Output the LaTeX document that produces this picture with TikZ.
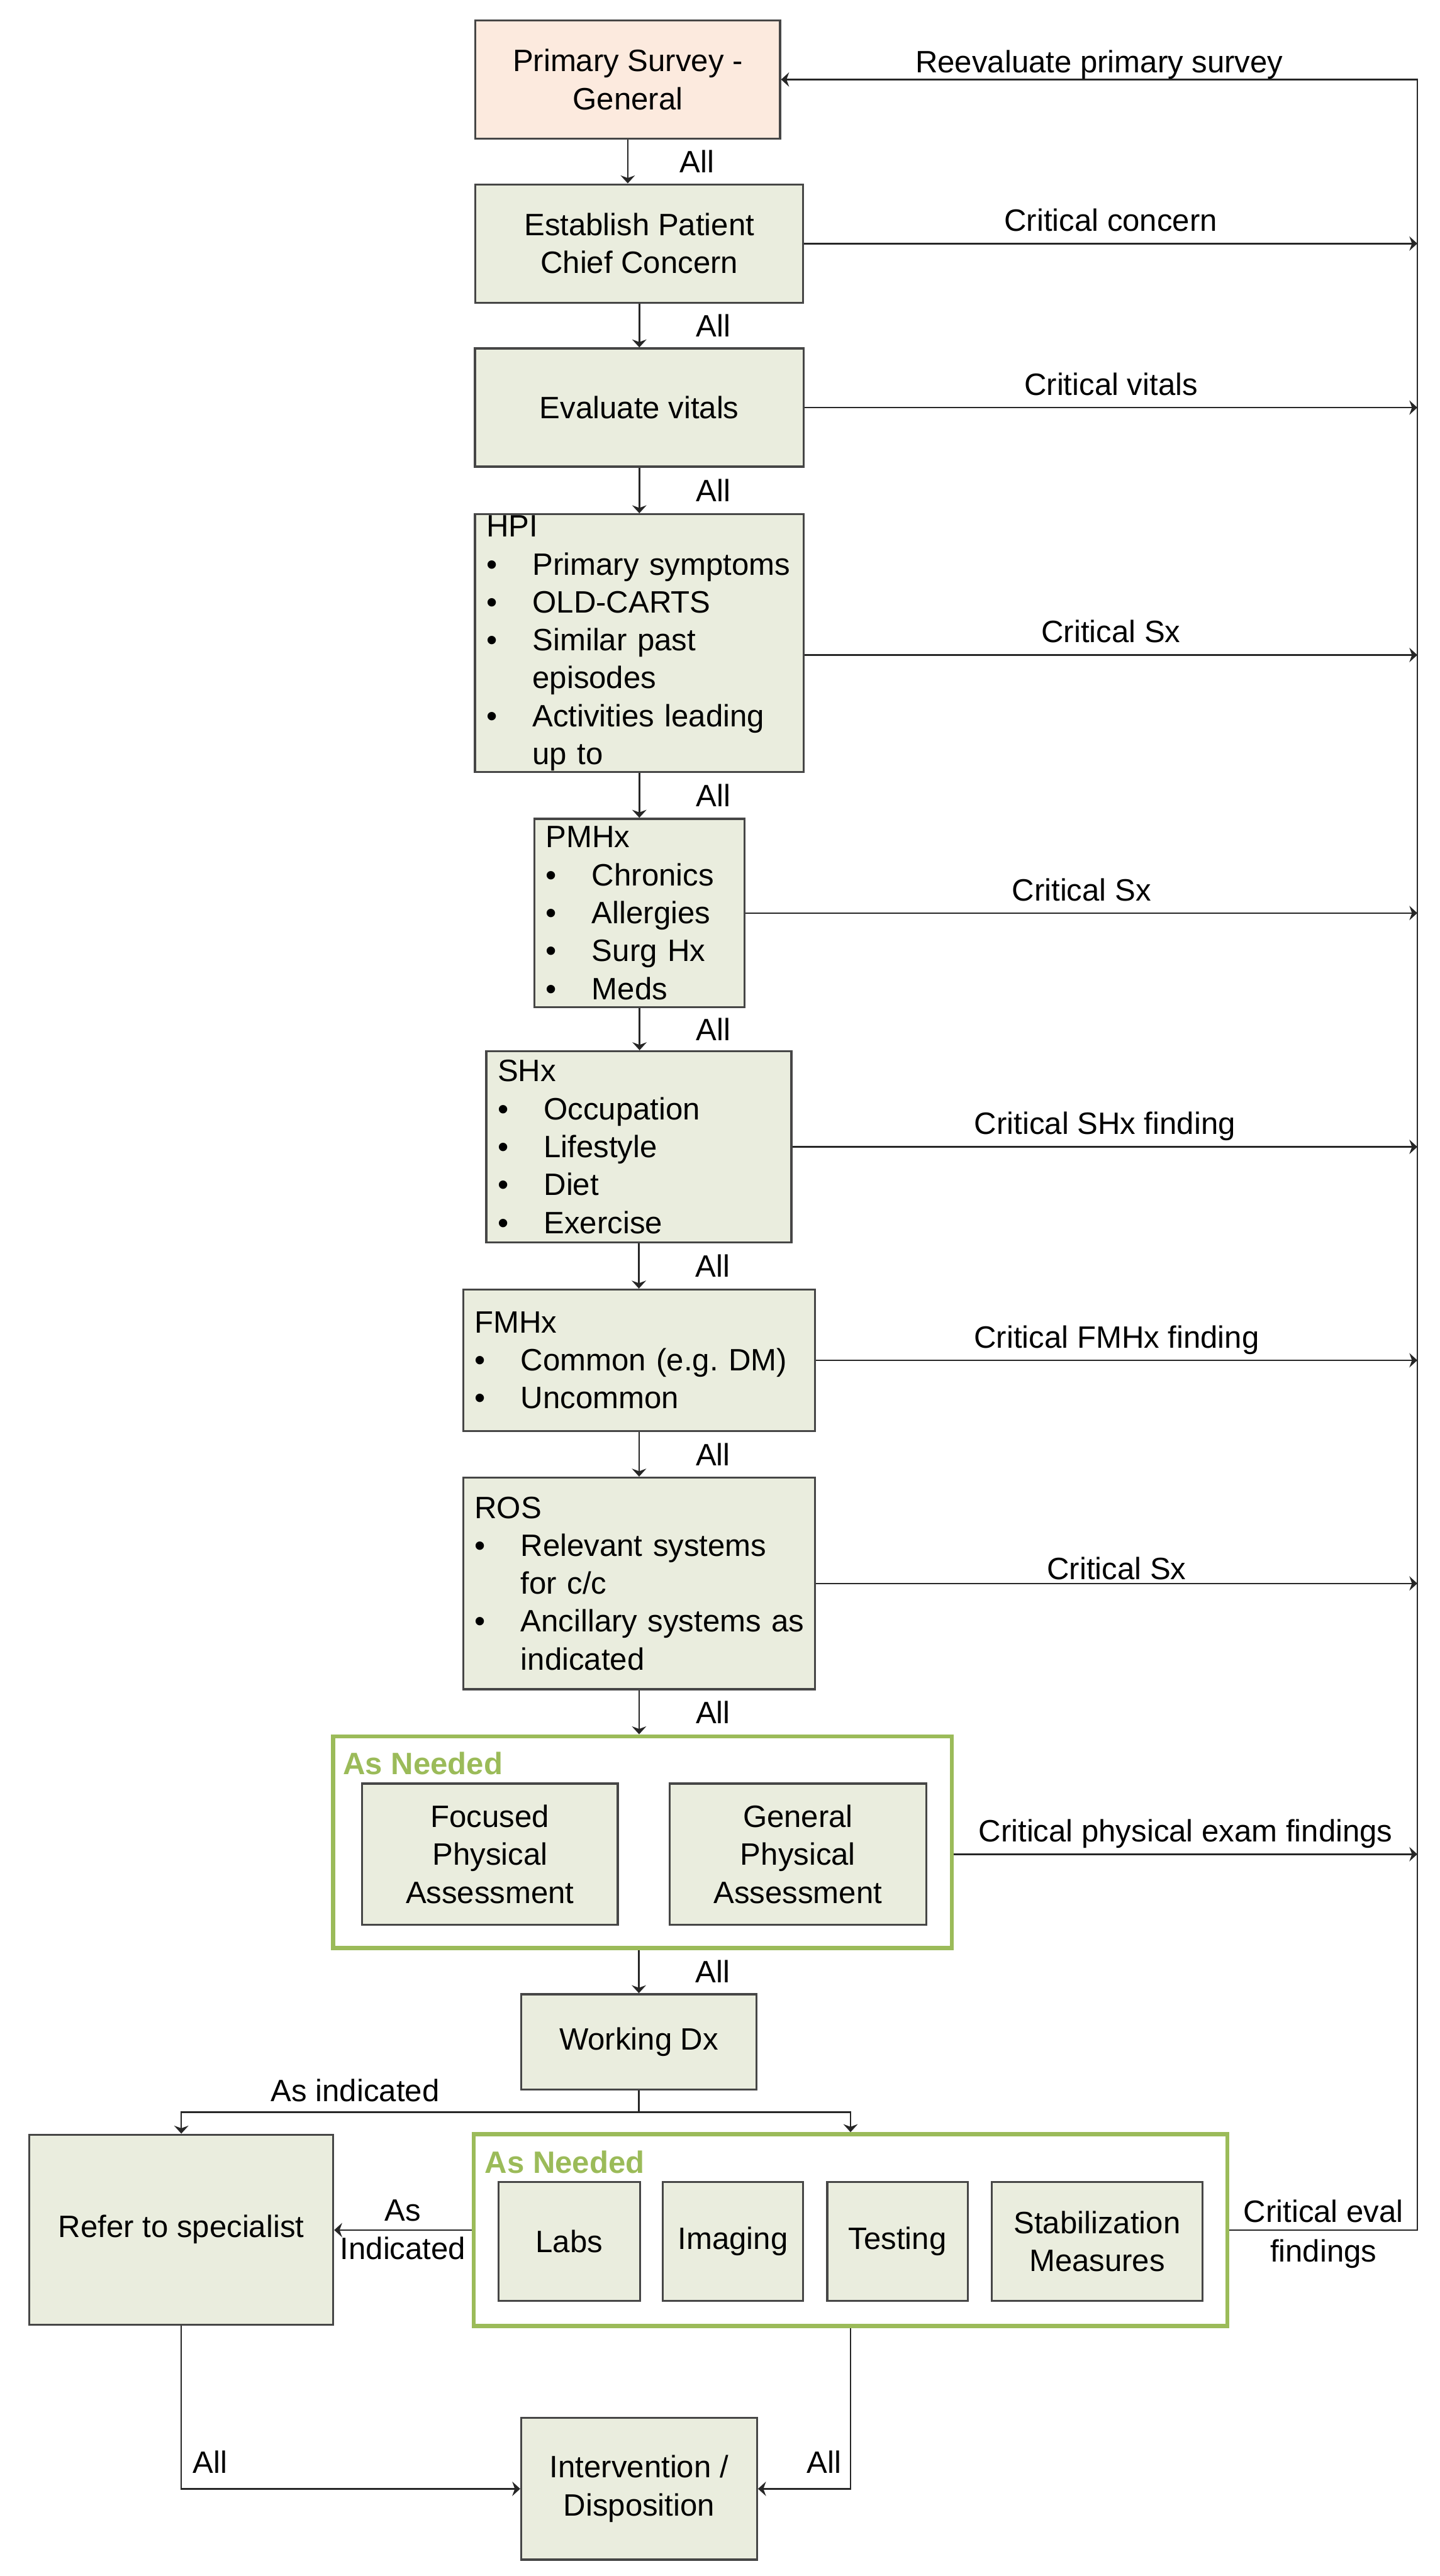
\documentclass[tikz,border=0pt]{standalone}
\usepackage{fontspec}
\setmainfont{Liberation Sans}
\usepackage{xcolor}
\usepackage{tikz}
\usetikzlibrary{arrows.meta, positioning}
\definecolor{boxfill}{RGB}{234,237,222}
\definecolor{surveyfill}{RGB}{252,234,222}
\definecolor{boxline}{RGB}{70,70,70}
\definecolor{needgreen}{RGB}{155,187,89}
\newcommand{\lstitem}[1]{\mbox{\makebox[1.02cm][l]{\textbullet}#1}}
\newcommand{\lstcont}[1]{\mbox{\hspace*{1.02cm}#1}}
\frenchspacing

\begin{document}
\begin{tikzpicture}[font=\fontsize{19.4}{23.8}\selectfont,
  box/.style={draw=boxline, fill=boxfill, line width=1.3pt, align=center, inner sep=0pt},
  listbox/.style={draw=boxline, fill=boxfill, line width=1.3pt, align=left, inner xsep=0.25cm, inner ysep=0pt, text width=#1},
  needbox/.style={draw=needgreen, line width=2.6pt, inner sep=0pt},
  needlbl/.style={text=needgreen, font=\fontsize{19.4}{23.8}\selectfont\bfseries, inner sep=1pt, anchor=west},
  lbl/.style={inner sep=1pt, text depth=0pt},
  arr/.style={-{Stealth[length=5pt, width=9pt]}, line width=1pt, draw=black!85}]
\useasboundingbox (0,0) rectangle (31.76,-56.85);
\node[box, fill=surveyfill, minimum width=6.72cm, minimum height=2.61cm] (survey) at (13.85, -1.755) {Primary Survey -\\General};
\node[box, minimum width=7.23cm, minimum height=2.61cm] (concern) at (14.105, -5.375) {Establish Patient\\Chief Concern};
\node[box, minimum width=7.25cm, minimum height=2.61cm] (vitals) at (14.105, -8.995) {Evaluate vitals};
\node[listbox=6.75cm, minimum height=5.69cm] (hpi) at (14.105, -14.195) {HPI\\\lstitem{Primary symptoms}\\\lstitem{OLD-CARTS}\\\lstitem{Similar past}\\\lstcont{episodes}\\\lstitem{Activities leading}\\\lstcont{up to}};
\node[listbox=4.14cm, minimum height=4.16cm] (pmhx) at (14.11, -20.15) {PMHx\\\lstitem{Chronics}\\\lstitem{Allergies}\\\lstitem{Surg Hx}\\\lstitem{Meds}};
\node[listbox=6.23cm, minimum height=4.22cm] (shx) at (14.095, -25.31) {SHx\\\lstitem{Occupation}\\\lstitem{Lifestyle}\\\lstitem{Diet}\\\lstitem{Exercise}};
\node[listbox=7.26cm, minimum height=3.12cm] (fmhx) at (14.10, -30.02) {FMHx\\\lstitem{Common (e.g. DM)}\\\lstitem{Uncommon}};
\node[listbox=7.26cm, minimum height=4.67cm] (ros) at (14.10, -34.945) {ROS\\\lstitem{Relevant systems}\\\lstcont{for c/c}\\\lstitem{Ancillary systems as}\\\lstcont{indicated}};
\node[needbox, minimum width=13.65cm, minimum height=4.67cm] (exam) at (14.175, -40.655) {};
\node[needlbl] (examlbl) at (7.525, -38.92) {As Needed};
\node[box, minimum width=5.64cm, minimum height=3.12cm] (focused) at (10.81, -40.92) {Focused\\Physical\\Assessment};
\node[box, minimum width=5.67cm, minimum height=3.12cm] (general) at (17.605, -40.92) {General\\Physical\\Assessment};
\node[box, minimum width=5.19cm, minimum height=2.10cm] (workdx) at (14.095, -45.06) {Working Dx};
\node[box, minimum width=6.70cm, minimum height=4.19cm] (refer) at (4.00, -49.205) {Refer to specialist};
\node[needbox, minimum width=16.63cm, minimum height=4.23cm] (evals) at (18.765, -49.215) {};
\node[needlbl] (evalslbl) at (10.655, -47.72) {As Needed};
\node[box, minimum width=3.12cm, minimum height=2.63cm] (labs) at (12.56, -49.465) {Labs};
\node[box, minimum width=3.10cm, minimum height=2.63cm] (imaging) at (16.17, -49.465) {Imaging};
\node[box, minimum width=3.10cm, minimum height=2.63cm] (testing) at (19.80, -49.465) {Testing};
\node[box, minimum width=4.65cm, minimum height=2.63cm] (stabil) at (24.205, -49.465) {Stabilization\\Measures};
\node[box, minimum width=5.20cm, minimum height=3.13cm] (dispo) at (14.10, -54.925) {Intervention /\\Disposition};
\coordinate (rail) at (31.27, 0);
\coordinate (split) at (14.095, -46.61);
\draw[arr] (survey.south) -- (survey.south |- concern.north) node[lbl, midway, right=1.1cm] {All};
\draw[arr] (concern.south) -- (vitals.north) node[lbl, midway, right=1.2cm] {All};
\draw[arr] (vitals.south) -- (hpi.north) node[lbl, midway, right=1.2cm] {All};
\draw[arr] (hpi.south) -- (hpi.south |- pmhx.north) node[lbl, midway, right=1.2cm] {All};
\draw[arr] (pmhx.south) -- (pmhx.south |- shx.north) node[lbl, midway, right=1.2cm] {All};
\draw[arr] (shx.south) -- (shx.south |- fmhx.north) node[lbl, midway, right=1.2cm] {All};
\draw[arr] (fmhx.south) -- (ros.north) node[lbl, midway, right=1.2cm] {All};
\draw[arr] (ros.south) -- (ros.south |- exam.north) node[lbl, midway, right=1.2cm] {All};
\draw[arr] (workdx.north |- exam.south) -- (workdx.north) node[lbl, midway, right=1.2cm] {All};
\draw[arr] (concern.east) -- (concern.east -| rail) node[lbl, midway, above=0.22cm] {Critical concern};
\draw[arr] (vitals.east) -- (vitals.east -| rail) node[lbl, midway, above=0.22cm] {Critical vitals};
\draw[arr] ([yshift=-0.26cm]hpi.east) -- ([yshift=-0.26cm]hpi.east -| rail) node[lbl, midway, above=0.22cm] {Critical Sx};
\draw[arr] (pmhx.east) -- (pmhx.east -| rail) node[lbl, midway, above=0.22cm] {Critical Sx};
\draw[arr] (shx.east) -- (shx.east -| rail) node[lbl, midway, above=0.22cm] {Critical SHx finding};
\draw[arr] (fmhx.east) -- (fmhx.east -| rail) node[lbl, midway, above=0.22cm] {Critical FMHx finding};
\draw[arr] (ros.east) -- (ros.east -| rail) node[lbl, midway, above=0.03cm] {Critical Sx};
\draw[arr] (general.east -| exam.east) -- (general.east -| rail) node[lbl, midway, above=0.22cm] {Critical physical exam findings};
\draw[arr] (evals.east) -- (evals.east -| rail) node[lbl, midway, above=0.12cm] {Critical eval} node[lbl, midway, below=0.15cm] {findings} -- (rail |- survey.east) -- (survey.east) node[lbl, midway, above=0.1cm] {Reevaluate primary survey};
\draw[line width=1pt, draw=black!85] (workdx.south) -- (split);
\draw[arr] (split) -| node[lbl, pos=0.31, above=0.18cm] {As indicated} (refer.north);
\draw[arr] (split) -| (evals.north);
\draw[arr] (evals.west) -- (evals.west -| refer.east) node[lbl, midway, above=0.15cm] {As} node[lbl, midway, below=0.1cm] {Indicated};
\draw[arr] (refer.south) |- node[lbl, pos=0.5, anchor=south west, xshift=0.2cm, yshift=0.29cm] {All} (dispo.west);
\draw[arr] (evals.south) |- node[lbl, pos=0.5, anchor=south east, xshift=-0.15cm, yshift=0.29cm] {All} (dispo.east);
\end{tikzpicture}
\end{document}
